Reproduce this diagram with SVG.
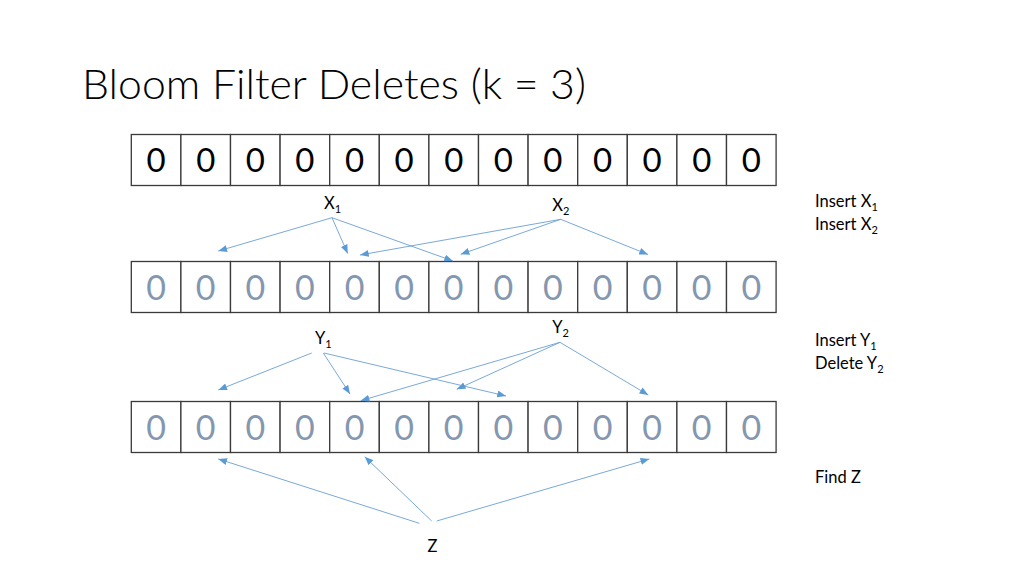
<svg xmlns="http://www.w3.org/2000/svg" width="1024" height="576" viewBox="0 0 1024 576">
<style>
.cell{fill:#fff;stroke:#3a3a3a;stroke-width:1.3}
.d1{font-family:Lato,"Open Sans",sans-serif;font-size:33px;fill:#000;text-anchor:middle}
.d2{font-family:Lato,"Open Sans",sans-serif;font-size:34px;fill:#8497B0;text-anchor:middle}
.lbl{font-family:Lato,"Open Sans",sans-serif;font-size:16.5px;fill:#000}
.sub{font-size:11px}
.title{font-family:Lato,"Open Sans",sans-serif;font-weight:300;font-size:41px;fill:#000}
.arr{stroke:#6A9FD4;stroke-width:0.9;fill:none;marker-end:url(#ah)}
</style>
<defs>
<marker id="ah" viewBox="0 0 10 8" refX="10" refY="4" markerUnits="userSpaceOnUse" markerWidth="9" markerHeight="7" orient="auto">
<path d="M0,0 L10,4 L0,8 z" fill="#5B9BD5"/>
</marker>
<g id="row">
<rect class="cell" x="131.3" y="0" width="49.6" height="51"/>
<rect class="cell" x="180.9" y="0" width="49.6" height="51"/>
<rect class="cell" x="230.5" y="0" width="49.6" height="51"/>
<rect class="cell" x="280.1" y="0" width="49.6" height="51"/>
<rect class="cell" x="329.7" y="0" width="49.6" height="51"/>
<rect class="cell" x="379.3" y="0" width="49.6" height="51"/>
<rect class="cell" x="428.9" y="0" width="49.6" height="51"/>
<rect class="cell" x="478.5" y="0" width="49.6" height="51"/>
<rect class="cell" x="528.1" y="0" width="49.6" height="51"/>
<rect class="cell" x="577.7" y="0" width="49.6" height="51"/>
<rect class="cell" x="627.3" y="0" width="49.6" height="51"/>
<rect class="cell" x="676.9" y="0" width="49.6" height="51"/>
<rect class="cell" x="726.5" y="0" width="49.6" height="51"/>
</g>
</defs>
<rect width="1024" height="576" fill="#fff"/>
<text class="title" x="82" y="99" textLength="504" lengthAdjust="spacingAndGlyphs">Bloom Filter Deletes (k = 3)</text>

<g id="array1">
<use href="#row" y="134.5"/>
<text class="d1" y="172"><tspan x="156.1">0</tspan><tspan x="205.7">0</tspan><tspan x="255.3">0</tspan><tspan x="304.9">0</tspan><tspan x="354.5">0</tspan><tspan x="404.1">0</tspan><tspan x="453.7">0</tspan><tspan x="503.3">0</tspan><tspan x="552.9">0</tspan><tspan x="602.5">0</tspan><tspan x="652.1">0</tspan><tspan x="701.7">0</tspan><tspan x="751.3">0</tspan></text>
</g>
<g id="array2">
<use href="#row" y="261.5"/>
<text class="d2" y="299.5"><tspan x="156.1">0</tspan><tspan x="205.7">0</tspan><tspan x="255.3">0</tspan><tspan x="304.9">0</tspan><tspan x="354.5">0</tspan><tspan x="404.1">0</tspan><tspan x="453.7">0</tspan><tspan x="503.3">0</tspan><tspan x="552.9">0</tspan><tspan x="602.5">0</tspan><tspan x="652.1">0</tspan><tspan x="701.7">0</tspan><tspan x="751.3">0</tspan></text>
</g>
<g id="array3">
<use href="#row" y="401.5"/>
<text class="d2" y="439.5"><tspan x="156.1">0</tspan><tspan x="205.7">0</tspan><tspan x="255.3">0</tspan><tspan x="304.9">0</tspan><tspan x="354.5">0</tspan><tspan x="404.1">0</tspan><tspan x="453.7">0</tspan><tspan x="503.3">0</tspan><tspan x="552.9">0</tspan><tspan x="602.5">0</tspan><tspan x="652.1">0</tspan><tspan x="701.7">0</tspan><tspan x="751.3">0</tspan></text>
</g>

<g id="x1"><text class="lbl" x="324" y="209">X<tspan class="sub" dy="4">1</tspan></text></g>
<g id="x2"><text class="lbl" x="552.3" y="211">X<tspan class="sub" dy="4">2</tspan></text></g>
<g id="y1"><text class="lbl" x="315" y="344">Y<tspan class="sub" dy="4">1</tspan></text></g>
<g id="y2"><text class="lbl" x="552.3" y="333">Y<tspan class="sub" dy="4">2</tspan></text></g>
<g id="z"><text class="lbl" x="427.5" y="552">Z</text></g>

<g id="ops">
<text class="lbl" x="815" y="207">Insert X<tspan class="sub" dy="4">1</tspan></text>
<text class="lbl" x="815" y="230">Insert X<tspan class="sub" dy="4">2</tspan></text>
<text class="lbl" x="815" y="346">Insert Y<tspan class="sub" dy="4">1</tspan></text>
<text class="lbl" x="815" y="369">Delete Y<tspan class="sub" dy="4">2</tspan></text>
<text class="lbl" x="815" y="483">Find Z</text>
</g>

<g id="connectors">
<line class="arr" x1="332" y1="217.7" x2="218.3" y2="251"/>
<line class="arr" x1="332" y1="217.7" x2="347.7" y2="253.5"/>
<line class="arr" x1="332" y1="217.7" x2="453" y2="261"/>
<line class="arr" x1="560.7" y1="219.3" x2="360" y2="255"/>
<line class="arr" x1="560.7" y1="219.3" x2="460.7" y2="254.3"/>
<line class="arr" x1="560.7" y1="219.3" x2="648" y2="254.5"/>
<line class="arr" x1="311.7" y1="353" x2="218.3" y2="390"/>
<line class="arr" x1="323.3" y1="353" x2="350" y2="394"/>
<line class="arr" x1="324" y1="353" x2="506" y2="396"/>
<line class="arr" x1="560" y1="342.3" x2="360.7" y2="400.7"/>
<line class="arr" x1="560" y1="342.3" x2="456.7" y2="389.3"/>
<line class="arr" x1="560" y1="342.3" x2="648.3" y2="395"/>
<line class="arr" x1="419.3" y1="523.3" x2="218.3" y2="459"/>
<line class="arr" x1="431.7" y1="521" x2="364.7" y2="456.7"/>
<line class="arr" x1="436.7" y1="521" x2="649.3" y2="459"/>
</g>
</svg>
